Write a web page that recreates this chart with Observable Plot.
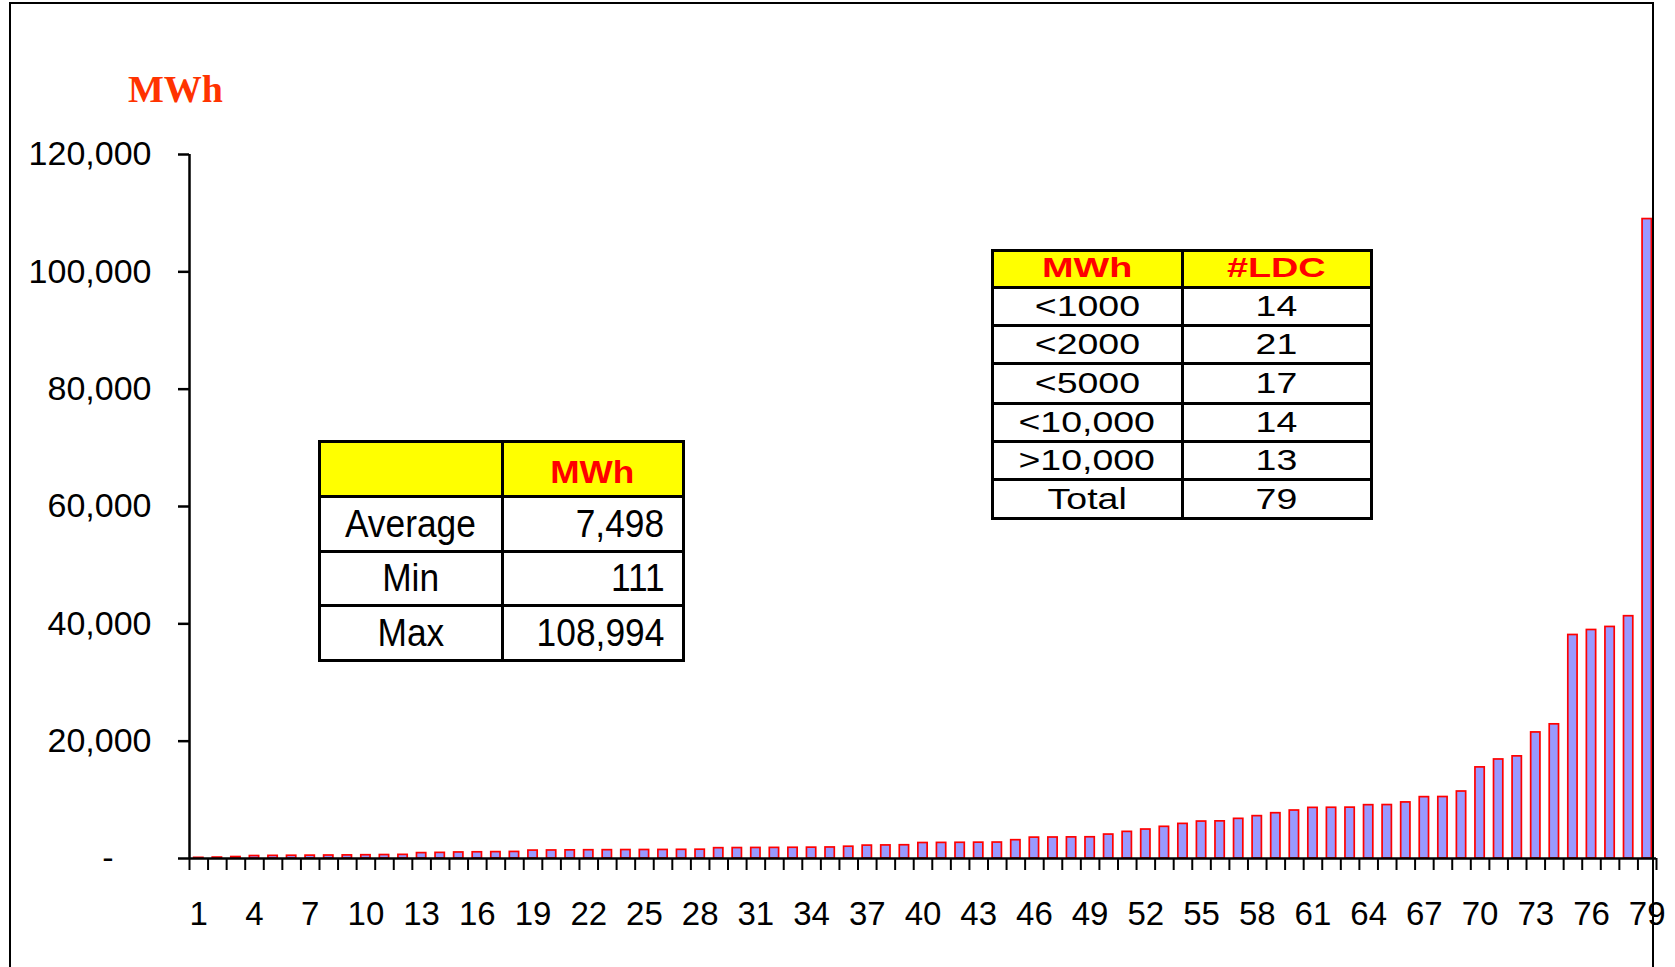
<!DOCTYPE html>
<html>
<head>
<meta charset="utf-8">
<script src="https://cdn.jsdelivr.net/npm/d3@7"></script>
<script src="https://cdn.jsdelivr.net/npm/@observablehq/plot@0.6"></script>
<style>
  html, body { margin: 0; padding: 0; background: #fff; overflow: hidden; }
  #wrap { position: relative; width: 1675px; height: 967px; overflow: hidden; }
  #chart { position: absolute; left: 0; top: 0; }
  .frame { position: absolute; left: 9px; top: 2px; width: 1645px; height: 1100px;
           border: 2.5px solid #000; border-bottom: none; box-sizing: border-box; }
  .title { position: absolute; left: 128px; top: 70px; font: bold 38px "Liberation Serif", "Times New Roman", serif;
           color: #ff3300; line-height: 1; white-space: nowrap; }
  .tbl { position: absolute; display: grid; background: #000; padding: 3px; gap: 3px; box-sizing: border-box; }
  .cell { background: #fff; display: flex; align-items: center; justify-content: center; overflow: visible;
          font-family: "Liberation Sans", Arial, sans-serif; color: #000; white-space: nowrap; }
  .cell.head { background: #ffff00; color: #ff0000; font-weight: bold; }
  .cell span { display: inline-block; line-height: 1; }
</style>
</head>
<body>
<div id="wrap">
  <div id="chart"></div>
  <div class="frame"></div>
  <div class="title">MWh</div>
</div>
<script>
// ---------- data ----------
const ldc = d3.range(1, 80);                       // LDC rank 1..79
const mwh = [
  111, 160, 250, 420, 450, 470, 490, 510, 530, 560,
  590, 620, 920, 960, 1030, 1060, 1090, 1120, 1350, 1370,
  1390, 1410, 1420, 1440, 1450, 1460, 1480, 1500, 1760, 1780,
  1800, 1810, 1830, 1850, 1880, 2010, 2200, 2230, 2260, 2640,
  2660, 2680, 2700, 2720, 3120, 3560, 3580, 3600, 3620, 4080,
  4540, 4940, 5400, 5900, 6300, 6330, 6760, 7220, 7720, 8180,
  8630, 8650, 8670, 9090, 9110, 9560, 10460, 10480, 11420, 15530,
  16880, 17410, 21490, 22870, 38100, 38950, 39470, 41300, 108994
];
const yTicks = [0, 20000, 40000, 60000, 80000, 100000, 120000];
const xLabelTicks = d3.range(1, 80, 3);            // 1, 4, 7, ... 79

// summary table (left)
const statLabels = ["Average", "Min", "Max"];
const statValues = ["7,498", "111", "108,994"];
// distribution table (right)
const binLabels = ["<1000", "<2000", "<5000", "<10,000", ">10,000", "Total"];
const binCounts = ["14", "21", "17", "14", "13", "79"];

// ---------- chart ----------
const data = ldc.map((n, i) => ({ n, v: mwh[i] }));

const chart = Plot.plot({
  width: 1675,
  height: 967,
  marginLeft: 189,
  marginRight: 19,
  marginTop: 154,
  marginBottom: 109,
  style: { fontFamily: "'Liberation Sans', Arial, sans-serif", fontSize: "34px", color: "#000", background: "transparent", overflow: "visible" },
  x: { type: "linear", domain: [0.5, 79.5], label: null },
  y: { domain: [0, 120000], label: null },
  marks: [
    Plot.rectY(data, { x1: d => d.n - 0.25, x2: d => d.n + 0.25, y: "v", fill: "#9999ff", stroke: "#ff0000", strokeWidth: 1.7 }),
    Plot.ruleY([0], { stroke: "#000", strokeWidth: 2.5 }),
    Plot.ruleX([0.5], { stroke: "#000", strokeWidth: 2.5 }),
    Plot.axisY({ ticks: yTicks.filter(v => v > 0), tickSize: 11, tickPadding: 27, tickFormat: d3.format(","), fontSize: 34, strokeWidth: 2.5, label: null }),
    Plot.axisY({ ticks: [0], tickSize: 11, tickPadding: 65, tickFormat: () => "-", fontSize: 34, strokeWidth: 2.5, label: null }),
    Plot.axisX({ ticks: d3.range(0.5, 80, 1), tickSize: 12, tickFormat: () => "", strokeWidth: 2, label: null }),
    Plot.axisX({ ticks: xLabelTicks, tickSize: 0, tickPadding: 43, fontSize: 33, tickFormat: d => String(d), label: null })
  ]
});
document.getElementById("chart").appendChild(chart);

// ---------- tables ----------
function makeTable(opts) {
  const t = document.createElement("div");
  t.className = "tbl";
  t.style.left = opts.left + "px";
  t.style.top = opts.top + "px";
  t.style.gridTemplateColumns = opts.cols.map(c => c + "px").join(" ");
  t.style.gridTemplateRows = opts.rows.map(r => r + "px").join(" ");
  opts.cells.forEach(c => {
    const d = document.createElement("div");
    d.className = "cell" + (c.head ? " head" : "");
    const s = document.createElement("span");
    s.textContent = c.text;
    s.style.fontSize = c.size + "px";
    s.style.transform = "scaleX(" + c.sx + ")";
    if (c.align === "right") {
      d.style.justifyContent = "flex-end";
      d.style.paddingRight = c.pad + "px";
      s.style.transformOrigin = "right center";
    }
    if (c.dy) d.style.paddingTop = c.dy + "px";
    d.appendChild(s);
    t.appendChild(d);
  });
  document.getElementById("wrap").appendChild(t);
}

// left table
const leftCells = [
  { text: "", head: true, size: 32, sx: 1 },
  { text: "MWh", head: true, size: 32, sx: 1.1, dy: 6 }
];
statLabels.forEach((l, i) => {
  leftCells.push({ text: l, size: 38, sx: 0.93 });
  leftCells.push({ text: statValues[i], size: 38, sx: 0.93, align: "right", pad: 17 });
});
makeTable({ left: 317.5, top: 439.5, cols: [180, 178], rows: [52, 52, 51, 52], cells: leftCells });

// right table
const rightCells = [
  { text: "MWh", head: true, size: 27, sx: 1.4 },
  { text: "#LDC", head: true, size: 27, sx: 1.4 }
];
binLabels.forEach((l, i) => {
  rightCells.push({ text: l, size: 29.5, sx: 1.27 });
  rightCells.push({ text: binCounts[i], size: 29.5, sx: 1.27 });
});
makeTable({ left: 990.5, top: 248.5, cols: [187, 186], rows: [34, 35, 35, 37, 35, 35, 36], cells: rightCells });
</script>
</body>
</html>
